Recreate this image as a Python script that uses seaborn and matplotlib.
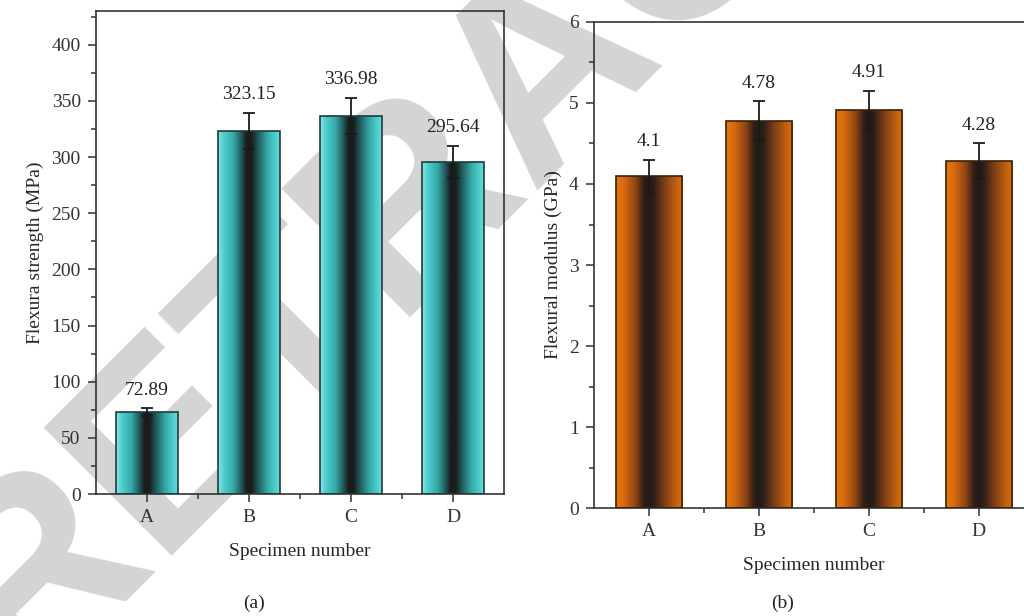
import numpy as np
import pandas as pd
import matplotlib
matplotlib.use("Agg")
import matplotlib.pyplot as plt
import seaborn as sns
from matplotlib.colors import LinearSegmentedColormap

# data
specimens = ["A", "B", "C", "D"]
strength = [72.89, 323.15, 336.98, 295.64]
strength_err = [3.5, 16, 16, 14.5]
modulus = [4.1, 4.78, 4.91, 4.28]
modulus_err = [0.2, 0.24, 0.24, 0.22]

sns.set_theme(style="ticks")
plt.rcParams["font.family"] = ["Liberation Serif", "DejaVu Serif"]
plt.rcParams["axes.edgecolor"] = "#333333"
plt.rcParams["xtick.color"] = "#333333"
plt.rcParams["ytick.color"] = "#333333"
plt.rcParams["text.color"] = "#222222"

cyan_map = LinearSegmentedColormap.from_list("cyl_cyan", [
    (0.0, "#8ae4e4"), (0.1, "#4ccccc"), (0.25, "#37a9a9"), (0.38, "#1f5757"),
    (0.46, "#1c1c1c"), (0.54, "#1c1c1c"), (0.64, "#1f5757"), (0.8, "#37a9a9"),
    (0.92, "#4ccccc"), (1.0, "#6cd9d9")])
orange_map = LinearSegmentedColormap.from_list("cyl_orange", [
    (0.0, "#e8770d"), (0.12, "#d86a10"), (0.3, "#8a4214"), (0.42, "#2c1e18"),
    (0.5, "#211c1a"), (0.56, "#2c1e18"), (0.72, "#7c3e16"), (0.9, "#c2600f"),
    (1.0, "#dd6d0f")])


def shade_bars(ax, cmap, edge):
    grad = np.linspace(0, 1, 256).reshape(1, -1)
    for bar in ax.patches:
        x, y = bar.get_xy()
        w, h = bar.get_width(), bar.get_height()
        im = ax.imshow(grad, extent=[x, x + w, y, y + h], aspect="auto",
                       cmap=cmap, zorder=2, interpolation="bicubic")
        im.set_clip_path(bar)
        bar.set_facecolor("none")
        bar.set_edgecolor(edge)
        bar.set_linewidth(1.2)
        bar.set_zorder(3)


def panel(ax, values, errs, cmap, edge, ylim, major, minor, ylabel, fmt):
    df = pd.DataFrame({"specimen": specimens, "value": values})
    sns.barplot(data=df, x="specimen", y="value", width=0.6, errorbar=None,
                color="white", ax=ax)
    shade_bars(ax, cmap, edge)
    ax.errorbar(range(len(values)), values, yerr=errs, fmt="none",
                ecolor="#1a1a1a", elinewidth=1.3, capsize=4, capthick=1.3, zorder=4)
    for i, (v, e) in enumerate(zip(values, errs)):
        ax.annotate(fmt.format(v), (i, v + e), xytext=(0, 7), textcoords="offset points",
                    ha="center", va="bottom", fontsize=14)
    ax.set_xlim(-0.5, 3.5)
    ax.set_ylim(*ylim)
    ax.set_yticks(np.arange(0, ylim[1] + 1e-9, major))
    ax.set_yticks(np.arange(0, ylim[1] + 1e-9, minor), minor=True)
    ax.set_xticks([0.5, 1.5, 2.5], minor=True)
    ax.tick_params(which="major", length=6, width=1.1, labelsize=14, pad=5)
    ax.tick_params(which="minor", length=3.5, width=1.1)
    ax.set_xlabel("Specimen number", fontsize=14, labelpad=12)
    ax.set_ylabel(ylabel, fontsize=14, labelpad=5)
    ax.patch.set_alpha(0)
    for s in ax.spines.values():
        s.set_linewidth(1.2)


fig = plt.figure(figsize=(10.24, 6.16), dpi=100)
# retraction watermark behind everything
fig.text(0.02, -0.12, "RETRACTED", fontsize=190, color="#d4d4d4",
         family="Liberation Sans", weight="bold", rotation=45,
         rotation_mode="anchor", ha="left", va="baseline", zorder=-5)

ax1 = fig.add_axes([0.09375, 0.198, 0.3984, 0.784])
ax2 = fig.add_axes([0.580, 0.1753, 0.4297, 0.789])

panel(ax1, strength, strength_err, cyan_map, "#1d3b3b", (0, 430), 50, 25,
      "Flexura strength (MPa)", "{:.2f}")
panel(ax2, modulus, modulus_err, orange_map, "#3a2105", (0, 6), 1, 0.5,
      "Flexural modulus (GPa)", "{:g}")

fig.text(254 / 1024, 1 - 603 / 616, "(a)", ha="center", va="center", fontsize=14)
fig.text(783 / 1024, 1 - 603 / 616, "(b)", ha="center", va="center", fontsize=14)

fig.savefig("out.png", dpi=100)
